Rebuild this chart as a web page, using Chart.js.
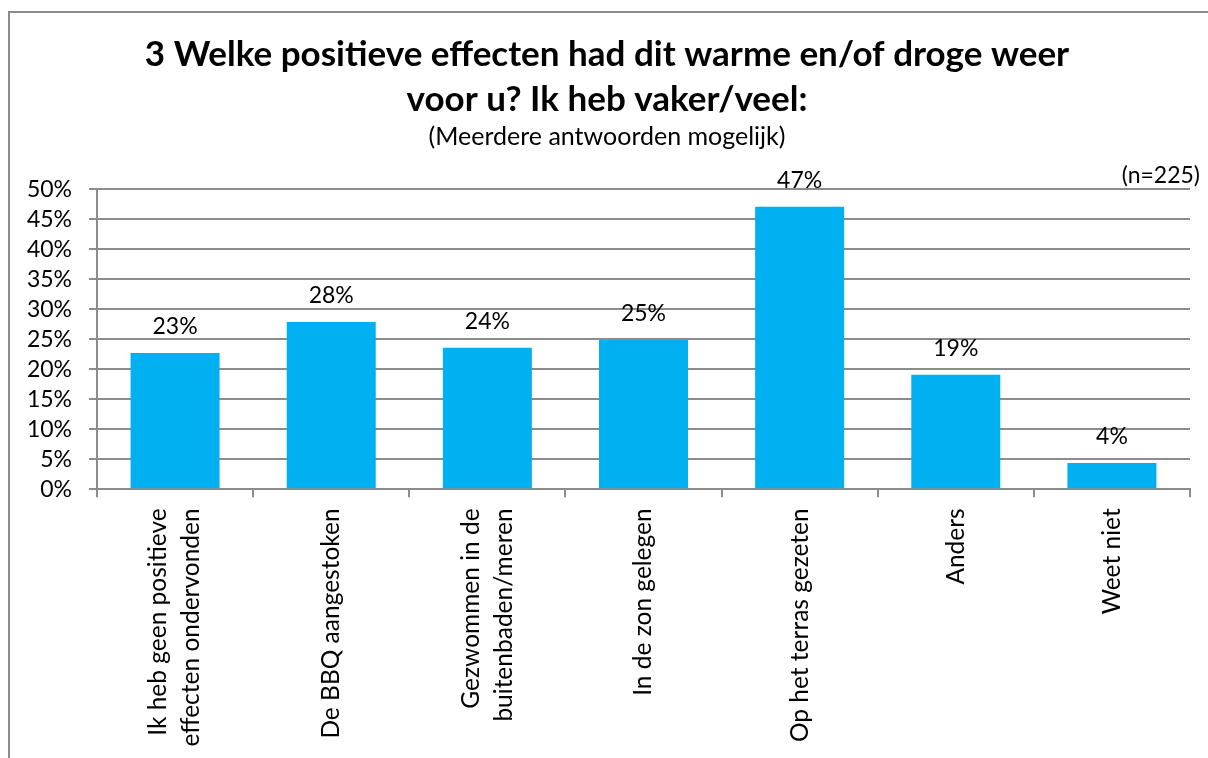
<!DOCTYPE html>
<html>
<head>
<meta charset="utf-8">
<script src="https://cdn.jsdelivr.net/npm/chart.js@4.4.1/dist/chart.umd.min.js"></script>
<style>
  html, body { margin: 0; padding: 0; background: #fff; overflow: hidden; }
  .frame { position: absolute; left: 8px; top: 11px; width: 1400px; height: 900px; border: 2px solid #8c8c8c; }
  #chartCanvas { position: absolute; left: 0; top: 0; }
</style>
</head>
<body>
<div class="frame"></div>
<canvas id="chartCanvas" width="1208" height="758"></canvas>
<script>
// Chart data
const titleLines = ['3 Welke positieve effecten had dit warme en/of droge weer', 'voor u? Ik heb vaker/veel:'];
const subtitleText = '(Meerdere antwoorden mogelijk)';
const sampleText = '(n=225)';
const categories = [
  ['Ik heb geen positieve', 'effecten ondervonden'],
  ['De BBQ aangestoken'],
  ['Gezwommen in de', 'buitenbaden/meren'],
  ['In de zon gelegen'],
  ['Op het terras gezeten'],
  ['Anders'],
  ['Weet niet'],
];
const percentages = [22.7, 27.9, 23.6, 24.9, 47.1, 19.1, 4.4];
const yMax = 50;
const yStep = 5;

const barColor = '#00B0F0';
const lineColor = '#8c8c8c';

Chart.defaults.font.family = 'Lato';
Chart.defaults.color = '#000';

// Percentage above each bar
const valueLabels = {
  id: 'valueLabels',
  afterDatasetsDraw(chart) {
    const ctx = chart.ctx;
    const meta = chart.getDatasetMeta(0);
    ctx.save();
    ctx.font = '23px Lato';
    ctx.fillStyle = '#000';
    ctx.textAlign = 'center';
    ctx.textBaseline = 'alphabetic';
    meta.data.forEach((bar, i) => {
      ctx.fillText(Math.round(percentages[i]) + '%', bar.x, bar.y - 19);
    });
    ctx.restore();
  },
};

// Vertical category names, lines centred on the category
const categoryLabels = {
  id: 'categoryLabels',
  afterDraw(chart) {
    const ctx = chart.ctx;
    const xScale = chart.scales.x;
    const top = chart.chartArea.bottom + 19;
    const lineHeight = 33;
    ctx.save();
    ctx.font = '24.5px Lato';
    ctx.fillStyle = '#000';
    ctx.textAlign = 'right';
    ctx.textBaseline = 'middle';
    categories.forEach((lines, i) => {
      const x = xScale.getPixelForValue(i);
      ctx.save();
      ctx.translate(x, top);
      ctx.rotate(-Math.PI / 2);
      lines.forEach((line, j) => {
        ctx.fillText(line, 0, (j - (lines.length - 1) / 2) * lineHeight);
      });
      ctx.restore();
    });
    ctx.restore();
  },
};

// (n=225) in the top right corner
const sampleLabel = {
  id: 'sampleLabel',
  afterDraw(chart) {
    const ctx = chart.ctx;
    ctx.save();
    ctx.font = '23px Lato';
    ctx.fillStyle = '#000';
    ctx.textAlign = 'right';
    ctx.textBaseline = 'alphabetic';
    ctx.fillText(sampleText, chart.chartArea.right + 10, chart.chartArea.top - 6);
    ctx.restore();
  },
};

const ctx = document.getElementById('chartCanvas').getContext('2d');
new Chart(ctx, {
  type: 'bar',
  data: {
    labels: categories,
    datasets: [{
      data: percentages,
      backgroundColor: barColor,
      borderWidth: 0,
      barPercentage: 0.57,
      categoryPercentage: 1,
    }],
  },
  options: {
    responsive: false,
    animation: false,
    devicePixelRatio: 1,
    layout: {
      padding: { left: 24, right: 18, top: 0, bottom: 0 },
    },
    scales: {
      x: {
        ticks: { display: false },
        grid: {
          offset: true,
          drawOnChartArea: false,
          drawTicks: true,
          tickLength: 8,
          color: lineColor,
          lineWidth: 2,
        },
        border: { display: true, color: lineColor, width: 2 },
        afterFit(scale) {
          scale.height = 268.7;
        },
      },
      y: {
        min: 0,
        max: yMax,
        ticks: {
          stepSize: yStep,
          autoSkip: false,
          padding: 17,
          font: { size: 23 },
          callback: v => v + '%',
        },
        grid: {
          drawTicks: true,
          tickLength: 8,
          color: lineColor,
          lineWidth: 2,
        },
        border: { display: true, color: lineColor, width: 2 },
        afterFit(scale) {
          scale.width = 73;
        },
      },
    },
    plugins: {
      legend: { display: false },
      tooltip: { enabled: false },
      title: {
        display: true,
        text: titleLines,
        font: { size: 35, weight: 'bold', lineHeight: 1.286 },
        color: '#000',
        padding: { top: 32, bottom: 0 },
      },
      subtitle: {
        display: true,
        text: subtitleText,
        font: { size: 25, lineHeight: 1.2 },
        color: '#000',
        padding: { top: 0, bottom: 37.3 },
      },
    },
  },
  plugins: [valueLabels, categoryLabels, sampleLabel],
});
</script>
</body>
</html>
